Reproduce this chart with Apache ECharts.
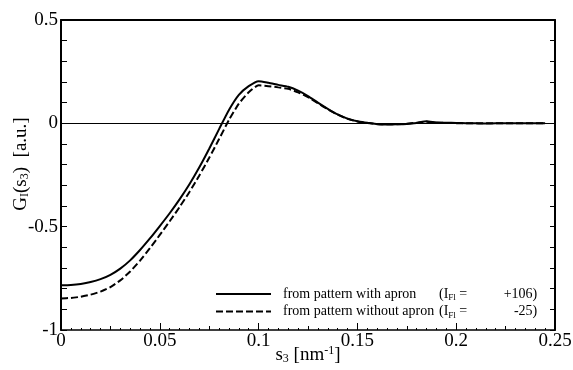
<!DOCTYPE html>
<html>
<head>
<meta charset="utf-8">
<script src="https://cdn.jsdelivr.net/npm/echarts@6/dist/echarts.min.js"></script>
<style>html,body{margin:0;padding:0;background:#fff}#c{width:573px;height:370px}</style>
</head>
<body>
<div id="c"></div>
<script>
// s3 values [nm^-1]
var s3 = [0,0.005,0.01,0.015,0.02,0.025,0.03,0.035,0.04,0.045,
          0.05,0.055,0.06,0.065,0.07,0.075,0.08,0.085,0.09,0.095,
          0.1,0.105,0.11,0.115,0.12,0.125,0.13,0.135,0.14,0.145,
          0.15,0.155,0.16,0.165,0.17,0.175,0.18,0.185,0.19,0.195,
          0.2,0.205,0.21,0.215,0.22,0.225,0.23,0.235,0.24,0.245];
// G_I(s3) from pattern with apron (I_Fl = +106)
var withApron = [-0.784,-0.782,-0.777,-0.768,-0.754,-0.733,-0.703,-0.663,-0.613,-0.557,
                 -0.497,-0.435,-0.368,-0.295,-0.213,-0.123,-0.028,0.065,0.138,0.180,
                 0.204,0.196,0.186,0.177,0.158,0.132,0.100,0.070,0.043,0.023,
                 0.010,0.003,-0.004,-0.006,-0.005,-0.003,0.002,0.010,0.004,0.003,
                 0.002,0.001,0.000,-0.001,0.000,0.000,0.000,0.000,0.000,0.000];
// G_I(s3) from pattern without apron (I_Fl = -25)
var withoutApron = [-0.847,-0.845,-0.839,-0.829,-0.814,-0.792,-0.760,-0.717,-0.664,-0.604,
                    -0.540,-0.474,-0.405,-0.332,-0.252,-0.167,-0.076,0.016,0.095,0.150,
                    0.184,0.180,0.174,0.167,0.150,0.127,0.097,0.068,0.042,0.022,
                    0.009,0.002,-0.003,-0.005,-0.004,-0.002,0.003,0.008,0.003,0.002,
                    0.001,0.000,0.000,0.000,0.000,0.000,0.000,0.000,0.000,0.000];
var xTicks = ['0','0.05','0.1','0.15','0.2','0.25'];
var yTicks = ['-1','-0.5','0','0.5'];
var names = ['with', 'without'];
var legendDesc = {'with':'from pattern with apron', 'without':'from pattern without apron'};
var legendIFl = {'with':'+106)', 'without':'-25)'};

function pairs(xs, ys){ return xs.map(function(x,i){ return [x, ys[i]]; }); }

var serif = 'Liberation Serif, Times New Roman, serif';
var chart = echarts.init(document.getElementById('c'), null, {renderer:'canvas'});
var option = {
  animation:false,
  backgroundColor:'#fff',
  grid:{left:61, right:18, top:20, bottom:40, containLabel:false, outerBoundsMode:'none'},
  xAxis:[
    {type:'value', min:0, max:0.25, interval:0.05, position:'bottom',
     axisLine:{show:true, onZero:false, lineStyle:{color:'#000', width:1.6}},
     axisTick:{inside:true, length:7, lineStyle:{color:'#000', width:1}},
     minorTick:{show:true, splitNumber:10, length:2, lineStyle:{color:'#000', width:1}},
     splitLine:{show:false},
     axisLabel:{color:'#000', fontFamily:serif, fontSize:19, margin:2,
       formatter:function(v){ var i = Math.round(v/0.05); return xTicks[i]; }},
     name:'{t|s}{sub|3}{t| [nm}{sup|-1}{t|]}', nameLocation:'middle', nameGap:15, nameMoveOverlap:false,
     nameTextStyle:{rich:{
       t:{fontFamily:serif, fontSize:19, color:'#000', lineHeight:20},
       sub:{fontFamily:serif, fontSize:12, color:'#000', verticalAlign:'bottom', lineHeight:20, padding:[6,0,0,0]},
       sup:{fontFamily:serif, fontSize:12, color:'#000', verticalAlign:'top', lineHeight:20, padding:[0,0,6,0]}
     }}},
    {type:'value', min:0, max:0.25, interval:0.025, position:'bottom',
     axisLine:{show:false, onZero:false}, axisLabel:{show:false}, splitLine:{show:false},
     axisTick:{inside:true, length:4, lineStyle:{color:'#000', width:1}}},
    {type:'value', min:0, max:0.25, interval:0.05, position:'top',
     axisLine:{show:true, onZero:false, lineStyle:{color:'#000', width:2}}, axisLabel:{show:false}, splitLine:{show:false},
     axisTick:{show:false}}
  ],
  yAxis:[
    {type:'value', min:-1, max:0.5, interval:0.5, position:'left',
     axisLine:{show:true, onZero:false, lineStyle:{color:'#000', width:2}},
     axisTick:{inside:true, length:6, lineStyle:{color:'#000', width:1}},
     minorTick:{show:true, splitNumber:5, length:6, lineStyle:{color:'#000', width:1}},
     splitLine:{show:false},
     axisLabel:{color:'#000', fontFamily:serif, fontSize:19, margin:3,
       formatter:function(v){ var i = Math.round((v+1)/0.5); return yTicks[i]; }},
     name:'{t|G}{sub|I}{t|(s}{sub|3}{t|)  [a.u.]}', nameLocation:'middle', nameGap:30, nameRotate:90,
     nameMoveOverlap:false,
     nameTextStyle:{padding:[0,0,0,22], rich:{
       t:{fontFamily:serif, fontSize:19, color:'#000'},
       sub:{fontFamily:serif, fontSize:12, color:'#000', verticalAlign:'bottom', padding:[8,0,0,0]}
     }}},
    {type:'value', min:-1, max:0.5, interval:0.5, position:'right',
     axisLine:{show:true, onZero:false, lineStyle:{color:'#000', width:2}},
     axisTick:{inside:true, length:5, lineStyle:{color:'#000', width:1}},
     minorTick:{show:true, splitNumber:5, length:5, lineStyle:{color:'#000', width:1}},
     splitLine:{show:false}, axisLabel:{show:false}}
  ],
  legend:{
    orient:'vertical', left:210, top:282, itemWidth:55, itemHeight:10, itemGap:2,
    itemStyle:{opacity:0},
    formatter:function(n){
      return '{d|' + legendDesc[n] + '}{t|(I}{sub|Fl}{t| =}{num|' + legendIFl[n] + '}';
    },
    textStyle:{fontFamily:serif, fontSize:14, color:'#000', padding:[0,0,0,7],
      rich:{
        d:{fontFamily:serif, fontSize:14, color:'#000', width:156, align:'left', lineHeight:17},
        t:{fontFamily:serif, fontSize:14, color:'#000', lineHeight:17},
        sub:{fontFamily:serif, fontSize:9, color:'#000', verticalAlign:'bottom', lineHeight:17, padding:[6,0,0,0]},
        num:{fontFamily:serif, fontSize:14, color:'#000', width:70, align:'right', lineHeight:17}
      }},
    data:names
  },
  series:[
    {name:'with', type:'line', xAxisIndex:0, yAxisIndex:0, data:pairs(s3, withApron),
     showSymbol:false, symbol:'none', smooth:0.2,
     lineStyle:{color:'#000', width:2, type:'solid'}, itemStyle:{color:'#000'},
     markLine:{silent:true, symbol:'none', label:{show:false},
       lineStyle:{color:'#000', width:1, type:'solid'}, data:[{yAxis:0}]}},
    {name:'without', type:'line', xAxisIndex:0, yAxisIndex:0, data:pairs(s3, withoutApron),
     showSymbol:false, symbol:'none', smooth:0.2,
     lineStyle:{color:'#000', width:2, type:[7,3]}, itemStyle:{color:'#000'}}
  ]
};
chart.setOption(option);
</script>
</body>
</html>
